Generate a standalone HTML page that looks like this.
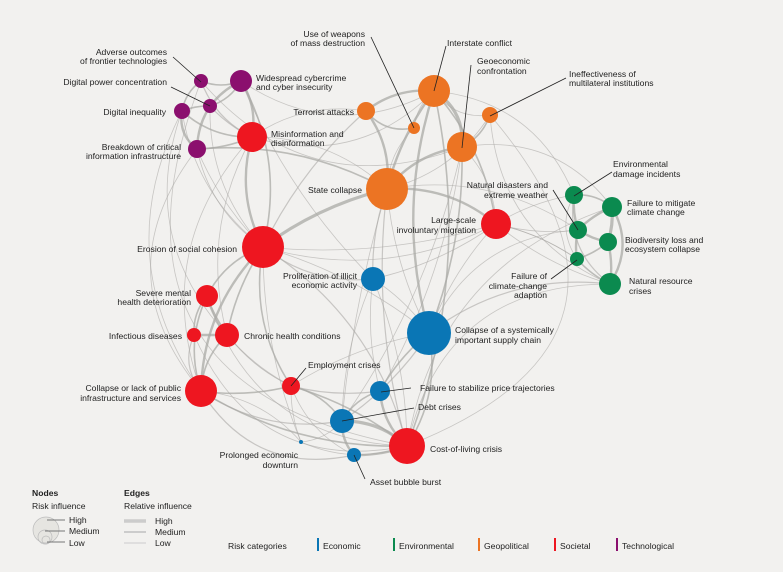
<!DOCTYPE html>
<html><head><meta charset="utf-8"><style>
html,body{margin:0;padding:0;background:#f2f1ef;}
svg{display:block;font-family:"Liberation Sans",sans-serif;}
text{font-size:8.6px;fill:#222;}
</style></head><body>
<svg id="s" width="783" height="572" viewBox="0 0 783 572">
<rect width="783" height="572" fill="#f2f1ef"/>
<g id="edges" fill="none" stroke="#aaa9a5"></g>
<g id="leaders" stroke="#222" stroke-width="0.8">
<line x1="173" y1="57" x2="201" y2="82"/>
<line x1="171" y1="87" x2="210" y2="106"/>
<line x1="371" y1="37" x2="414" y2="128"/>
<line x1="446" y1="46" x2="434" y2="91"/>
<line x1="471" y1="65" x2="462" y2="148"/>
<line x1="566" y1="78" x2="490" y2="116"/>
<line x1="612" y1="172" x2="574" y2="196"/>
<line x1="553" y1="190" x2="578" y2="230"/>
<line x1="551" y1="279" x2="577" y2="260"/>
<line x1="306" y1="368" x2="291" y2="386"/>
<line x1="411" y1="388" x2="381" y2="392"/>
<line x1="414" y1="408" x2="342" y2="421"/>
<line x1="365" y1="479" x2="354" y2="455"/>
</g>
<g id="nodes"></g>
<g>
<text x="167" y="55" text-anchor="end">Adverse outcomes</text>
<text x="167" y="64" text-anchor="end">of frontier technologies</text>
<text x="167" y="85" text-anchor="end">Digital power concentration</text>
<text x="166" y="115" text-anchor="end">Digital inequality</text>
<text x="181" y="150" text-anchor="end">Breakdown of critical</text>
<text x="181" y="159" text-anchor="end">information infrastructure</text>
<text x="256" y="81">Widespread cybercrime</text>
<text x="256" y="90">and cyber insecurity</text>
<text x="271" y="137">Misinformation and</text>
<text x="271" y="146">disinformation</text>
<text x="354" y="115" text-anchor="end">Terrorist attacks</text>
<text x="365" y="37" text-anchor="end">Use of weapons</text>
<text x="365" y="46" text-anchor="end">of mass destruction</text>
<text x="447" y="46">Interstate conflict</text>
<text x="477" y="64">Geoeconomic</text>
<text x="477" y="74">confrontation</text>
<text x="569" y="77">Ineffectiveness of</text>
<text x="569" y="86">multilateral institutions</text>
<text x="362" y="193" text-anchor="end">State collapse</text>
<text x="548" y="188" text-anchor="end">Natural disasters and</text>
<text x="548" y="198" text-anchor="end">extreme weather</text>
<text x="476" y="223" text-anchor="end">Large-scale</text>
<text x="476" y="233" text-anchor="end">involuntary migration</text>
<text x="613" y="167">Environmental</text>
<text x="613" y="177">damage incidents</text>
<text x="627" y="206">Failure to mitigate</text>
<text x="627" y="215">climate change</text>
<text x="625" y="243">Biodiversity loss and</text>
<text x="625" y="252">ecosystem collapse</text>
<text x="629" y="284">Natural resource</text>
<text x="629" y="294">crises</text>
<text x="547" y="279" text-anchor="end">Failure of</text>
<text x="547" y="289" text-anchor="end">climate-change</text>
<text x="547" y="298" text-anchor="end">adaption</text>
<text x="237" y="252" text-anchor="end">Erosion of social cohesion</text>
<text x="357" y="279" text-anchor="end">Proliferation of illicit</text>
<text x="357" y="288" text-anchor="end">economic activity</text>
<text x="455" y="333">Collapse of a systemically</text>
<text x="455" y="343">important supply chain</text>
<text x="191" y="296" text-anchor="end">Severe mental</text>
<text x="191" y="305" text-anchor="end">health deterioration</text>
<text x="182" y="339" text-anchor="end">Infectious diseases</text>
<text x="244" y="339">Chronic health conditions</text>
<text x="181" y="391" text-anchor="end">Collapse or lack of public</text>
<text x="181" y="401" text-anchor="end">infrastructure and services</text>
<text x="308" y="368">Employment crises</text>
<text x="420" y="391">Failure to stabilize price trajectories</text>
<text x="418" y="410">Debt crises</text>
<text x="430" y="452">Cost-of-living crisis</text>
<text x="298" y="458" text-anchor="end">Prolonged economic</text>
<text x="298" y="468" text-anchor="end">downturn</text>
<text x="370" y="485">Asset bubble burst</text>
</g>
<g>
<text x="32" y="496" style="font-weight:bold">Nodes</text>
<text x="32" y="509">Risk influence</text>
<circle cx="46" cy="530" r="13" fill="#e6e5e1" stroke="#bbb" stroke-width="0.7"/>
<circle cx="45" cy="537" r="7" fill="none" stroke="#bbb" stroke-width="0.7"/>
<circle cx="46" cy="540" r="4" fill="none" stroke="#bbb" stroke-width="0.7"/>
<line x1="47" y1="520" x2="65" y2="520" stroke="#777" stroke-width="1"/>
<line x1="45" y1="531" x2="65" y2="531" stroke="#777" stroke-width="1"/>
<line x1="47" y1="542" x2="65" y2="542" stroke="#777" stroke-width="1"/>
<text x="69" y="523">High</text>
<text x="69" y="534">Medium</text>
<text x="69" y="546">Low</text>
<text x="124" y="496" style="font-weight:bold">Edges</text>
<text x="124" y="509">Relative influence</text>
<line x1="124" y1="521" x2="146" y2="521" stroke="#ccc" stroke-width="3.5"/>
<line x1="124" y1="532" x2="146" y2="532" stroke="#ccc" stroke-width="2"/>
<line x1="124" y1="543" x2="146" y2="543" stroke="#ccc" stroke-width="1"/>
<text x="155" y="524">High</text>
<text x="155" y="535">Medium</text>
<text x="155" y="546">Low</text>
<text x="228" y="549">Risk categories</text>
<rect x="317" y="538" width="2" height="13" fill="#0a76b5"/><text x="323" y="549">Economic</text>
<rect x="393" y="538" width="2" height="13" fill="#0b8a4f"/><text x="399" y="549">Environmental</text>
<rect x="478" y="538" width="2" height="13" fill="#ec7423"/><text x="484" y="549">Geopolitical</text>
<rect x="554" y="538" width="2" height="13" fill="#ee1620"/><text x="560" y="549">Societal</text>
<rect x="616" y="538" width="2" height="13" fill="#8b0f6e"/><text x="622" y="549">Technological</text>
</g>
</svg>
<script>
var O="#ec7423",R="#ee1620",B="#0a76b5",G="#0b8a4f",P="#8b0f6e";
var N={
ad:[201,81,7,P],cy:[241,81,11,P],dp:[210,106,7,P],di:[182,111,8,P],br:[197,149,9,P],
mi:[252,137,15,R],te:[366,111,9,O],wm:[414,128,6,O],ic:[434,91,16,O],ie:[490,115,8,O],
ge:[462,147,15,O],sc:[387,189,21,O],lm:[496,224,15,R],er:[263,247,21,R],pr:[373,279,12,B],
ed:[574,195,9,G],fm:[612,207,10,G],nd:[578,230,9,G],bl:[608,242,9,G],fa:[577,259,7,G],nr:[610,284,11,G],
cs:[429,333,22,B],sm:[207,296,11,R],id:[194,335,7,R],ch:[227,335,12,R],cp:[201,391,16,R],
em:[291,386,9,R],fp:[380,391,10,B],db:[342,421,12,B],cl:[407,446,18,R],pd:[301,442,2,B],ab:[354,455,7,B]};
var E=[
["ad","cy",2,.2],["ad","di",2,.2],["dp","di",2,.1],["dp","cy",2,.2],["di","br",3,.3],["cy","mi",3,-.2],["di","mi",2,.2],["br","mi",2,.1],["cy","br",3,.3],["dp","mi",1.5,.1],["ad","mi",1.5,.2],
["br","sc",2,-.15],["cy","er",2,-.2],["mi","er",3,.2],["mi","sc",1,-.2],["dp","er",1,.2],["di","cp",1,.3],["br","er",1,.1],
["te","ic",3,-.2],["te","sc",3,-.2],["te","wm",2,.3],["wm","ic",1,-.2],["ic","ge",4,-.3],["ic","sc",3,.1],["ge","sc",3,.2],["ie","ge",2,-.2],["ie","ic",1,-.3],["ic","cs",3,.15],["ge","cs",2,-.1],["ge","lm",1,-.2],["te","er",1.5,.1],["te","mi",1,.2],["wm","sc",1,.2],["ic","lm",2,-.15],
["sc","er",4,.1],["sc","lm",3,-.2],["sc","pr",1.5,.1],["sc","cs",1,.1],["er","lm",1,.2],["er","pr",1.5,.2],["pr","lm",1,.1],["lm","nd",1,.1],["lm","fa",1,-.1],["lm","ed",1,-.1],["lm","nr",1,.1],
["ed","nd",3,.1],["ed","fm",2,-.2],["fm","nd",3,.1],["fm","bl",4,-.1],["nd","bl",3,.1],["nd","fa",3,.1],["fa","bl",2,.1],["bl","nr",3,-.1],["fm","nr",3,-.3],["fa","nr",2,.1],["ed","nr",1.5,.3],["ed","fa",1,.3],
["nr","cs",1.5,.2],["nd","cs",1,.3],["fm","cl",1,.3],["nr","cl",1,.4],["fa","lm",1,.1],["nd","sc",1,.2],["ed","ic",1,.3],["fm","ge",1,.3],
["er","sm",2,.2],["er","ch",2,.1],["er","cp",3,.2],["er","em",2,.2],["er","pd",1,.1],["er","cl",1.5,-.2],["er","cs",1,-.1],["er","br",1,-.2],["er","di",1,-.2],
["sm","ch",3,.1],["id","ch",3,0],["sm","id",2,.2],["sm","cp",2,.2],["ch","cp",2,.2],["id","cp",1.5,.3],["ch","em",1.5,.1],["cp","em",2,.1],["cp","cl",2,.15],["cp","db",1.5,.2],["sm","em",1,.2],
["em","db",2,-.2],["em","cl",2,-.1],["em","fp",1.5,.1],["em","ab",1,.2],["em","pd",1,.1],["fp","cl",3,.2],["fp","db",2,.2],["db","cl",4,-.2],["db","ab",3,.2],["ab","cl",3,.1],["pd","db",1,.2],["pd","cl",1,.2],["fp","cs",2,-.1],["cs","cl",2,-.2],["cs","db",1.5,-.1],["cs","em",1,.1],
["pr","db",1,.1],["pr","cl",1,-.1],["pr","fp",1,.1],["sc","cl",1.5,.1],["sc","db",1,.05],["ic","cl",2,-.15],["ge","fp",1,-.1],["ge","db",1,-.1],["cy","pr",1,.1],["mi","cp",1,.3],["mi","ch",1,.2],["mi","ic",1,.3],["cy","ic",1,.3],["ad","ge",1,.35],
["br","cp",1,.4],["di","ch",1,.3],["sm","cl",1,.35],["id","cl",1,.4],["cp","ab",1.5,.35],["lm","cs",1,.1],["lm","er",1,-.1],["ie","sc",1,-.2],["ie","nr",1,.3],["cs","pr",1,.1],["pd","cp",1,.2],["ad","cl",1,.6],["ie","cl",1,-.7]];
var eg=document.getElementById("edges"),ns="http://www.w3.org/2000/svg";
E.forEach(function(e){var a=N[e[0]],b=N[e[1]];var dx=b[0]-a[0],dy=b[1]-a[1];
var cx=(a[0]+b[0])/2-dy*e[3],cy=(a[1]+b[1])/2+dx*e[3];
var p=document.createElementNS(ns,"path");p.setAttribute("d","M"+a[0]+","+a[1]+"Q"+cx+","+cy+" "+b[0]+","+b[1]);
p.setAttribute("stroke-width",e[2]*0.8);p.setAttribute("stroke-opacity",e[2]>1.5?0.75:0.6);eg.appendChild(p);});
var ng=document.getElementById("nodes");
for(var k in N){var n=N[k];var c=document.createElementNS(ns,"circle");c.setAttribute("cx",n[0]);c.setAttribute("cy",n[1]);c.setAttribute("r",n[2]);c.setAttribute("fill",n[3]);ng.appendChild(c);}
document.getElementById("s").appendChild(document.getElementById("leaders"));
</script>
</body></html>
